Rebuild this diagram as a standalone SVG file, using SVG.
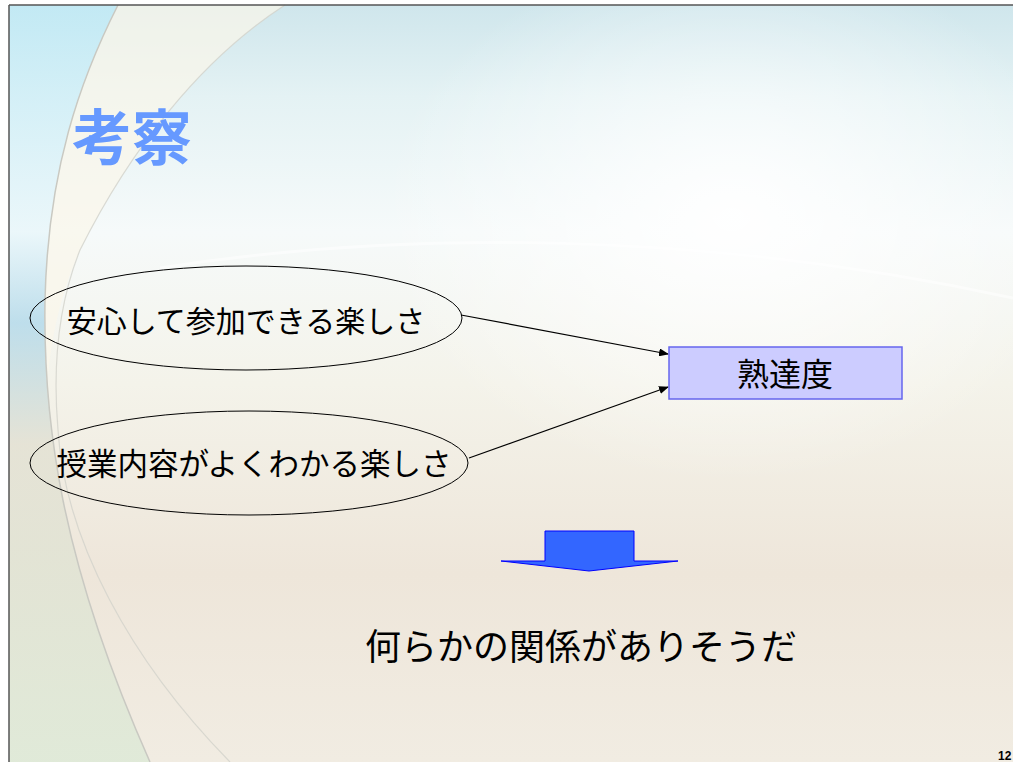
<svg xmlns="http://www.w3.org/2000/svg" width="1013" height="762" viewBox="0 0 1013 762">
<style>
.jp{font-family:"Noto Sans CJK JP","Noto Sans CJK SC",sans-serif;fill:#000}
.conn{stroke:#000;stroke-width:1.2;fill:none;marker-end:url(#ah)}
.ell{fill:none;stroke:#000;stroke-width:1}
</style>
<defs>
<marker id="ah" markerWidth="10" markerHeight="8" refX="9" refY="4" orient="auto" markerUnits="userSpaceOnUse">
<path d="M0,0 L10,4 L0,8 Z" fill="#000"/>
</marker>
<linearGradient id="bg" x1="0" y1="0" x2="0" y2="1">
<stop offset="0" stop-color="#cfe6ec"/>
<stop offset="0.12" stop-color="#e4f2f4"/>
<stop offset="0.3" stop-color="#f6fafa"/>
<stop offset="0.5" stop-color="#f4f3ea"/>
<stop offset="0.75" stop-color="#eee6da"/>
<stop offset="1" stop-color="#f1ece2"/>
</linearGradient>
<radialGradient id="glow" cx="0.72" cy="0.28" r="0.35">
<stop offset="0" stop-color="#ffffff" stop-opacity="0.95"/>
<stop offset="1" stop-color="#ffffff" stop-opacity="0"/>
</radialGradient>
<linearGradient id="leftband" x1="0" y1="0" x2="0" y2="1">
<stop offset="0" stop-color="#bfeaf6"/>
<stop offset="0.3" stop-color="#e8f6fa"/>
<stop offset="0.42" stop-color="#b0d8ea"/>
<stop offset="0.58" stop-color="#e2e0d2"/>
<stop offset="1" stop-color="#dce9d6"/>
</linearGradient>
</defs>
<rect x="0" y="0" width="1013" height="762" fill="#ffffff"/>
<g id="background">
<rect x="9" y="5" width="1004" height="757" fill="url(#bg)"/>
<rect x="9" y="5" width="1004" height="757" fill="url(#glow)"/>
<path d="M9,5 L118,5 C80,80 48,170 45,300 C43,420 60,560 150,762 L9,762 Z" fill="url(#leftband)" opacity="0.8"/>
<path d="M118,5 L285,5 C200,60 130,150 80,250 C62,290 50,340 48,380 C46,330 45,320 45,300 C48,170 80,80 118,5 Z" fill="#fbf7ea" opacity="0.7"/>
<path d="M118,5 C80,80 48,170 45,300 C43,420 60,560 150,762" fill="none" stroke="#c9c9c2" stroke-width="1.5"/>
<path d="M285,5 C200,60 130,150 80,250 C60,300 52,360 58,430 C65,540 130,660 230,762" fill="none" stroke="#d2d2cb" stroke-width="1.2" opacity="0.8"/>
<path d="M160,268 C400,230 700,230 1013,298" fill="none" stroke="#ffffff" stroke-width="3" opacity="0.5"/>
<path d="M9,5 H1013 M9,5 V762" fill="none" stroke="#555" stroke-width="1.5"/>
</g>
<g id="title">
<text x="72" y="160" font-family="Noto Sans CJK JP, sans-serif" font-size="60" font-weight="bold" fill="#6699ff">考察</text>
</g>
<g id="connectors">
<line class="conn" x1="461" y1="315" x2="668" y2="354"/>
<line class="conn" x1="469" y1="458" x2="668" y2="387"/>
</g>
<g id="node-anshin">
<ellipse class="ell" cx="246" cy="318" rx="216" ry="52"/>
<text class="jp" x="246" y="332" font-size="30" text-anchor="middle">安心して参加できる楽しさ</text>
</g>
<g id="node-jugyo">
<ellipse class="ell" cx="249" cy="463" rx="219" ry="52"/>
<text class="jp" x="254" y="475" font-size="30.5" text-anchor="middle">授業内容がよくわかる楽しさ</text>
</g>
<g id="node-jukutatsudo">
<rect x="669" y="347" width="233" height="52" fill="#ccccff" stroke="#6666ee" stroke-width="1.5"/>
<text class="jp" x="785" y="386" font-size="32" text-anchor="middle">熟達度</text>
</g>
<g id="block-arrow">
<path d="M545,531 H634 V561 H678 L589,571 L501,561 H545 Z" fill="#3366ff" stroke="#0000ff" stroke-width="1"/>
</g>
<g id="conclusion">
<text class="jp" x="581" y="660" font-size="36" text-anchor="middle">何らかの関係がありそうだ</text>
</g>
<g id="page-number">
<text x="998" y="760" font-family="Liberation Sans, Arial, sans-serif" font-size="12" font-weight="bold" fill="#000">12</text>
</g>
</svg>
